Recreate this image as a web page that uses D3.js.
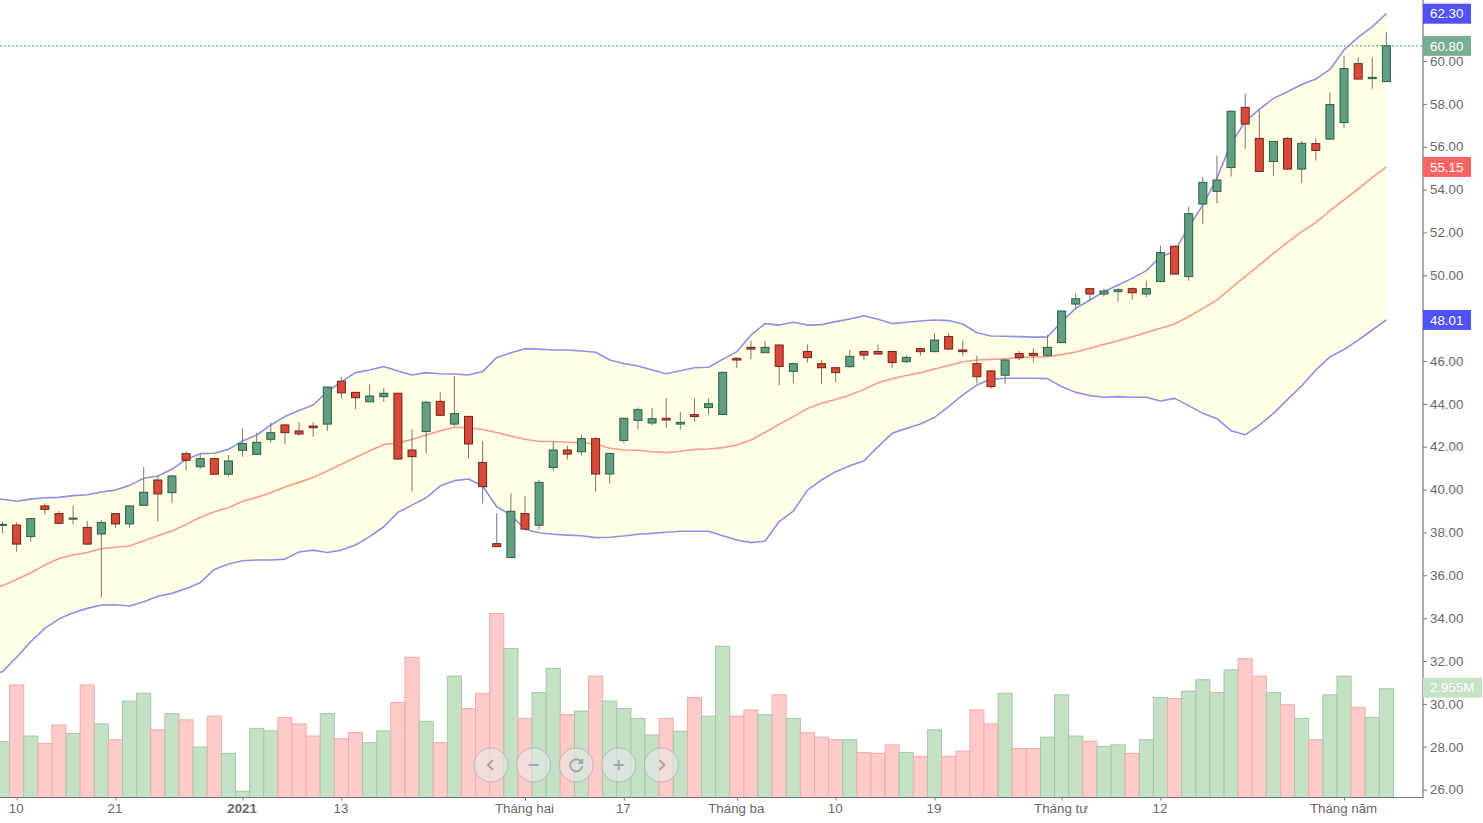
<!DOCTYPE html>
<html>
<head>
<meta charset="utf-8">
<title>Chart</title>
<script src="https://cdn.jsdelivr.net/npm/d3@7"></script>
<style>
  html, body { margin: 0; padding: 0; background: #fff; overflow: hidden; }
  svg { display: block; font-family: "Liberation Sans", Arial, sans-serif; }
  .axis text { font-size: 13.3px; fill: #686868; }
  .axis line { stroke: #777; }
</style>
</head>
<body>
<svg id="chart" width="1483" height="823"></svg>
<script>
/* one entry per session, oldest first */
const opens = [38.44, 38.44, 37.90, 39.33, 38.97, 38.72, 38.33, 38.02, 38.97, 38.49,
  39.36, 40.54, 39.95, 41.77, 41.16, 41.54, 40.81, 41.93, 41.74, 42.44,
  43.11, 42.83, 43.06, 43.15, 45.15, 44.63, 44.19, 44.43, 44.59, 41.94,
  42.80, 44.21, 43.15, 43.51, 41.36, 37.57, 36.92, 38.97, 38.43, 41.12,
  41.94, 41.86, 42.47, 40.82, 42.39, 43.32, 43.20, 43.42, 43.15, 43.59,
  43.92, 43.60, 46.22, 46.73, 46.48, 46.84, 45.61, 46.54, 45.97, 45.78,
  45.83, 46.54, 46.54, 46.54, 46.06, 46.67, 46.53, 47.24, 46.61, 45.97,
  45.63, 45.43, 46.44, 46.45, 46.36, 46.95, 48.75, 49.47, 49.22, 49.33,
  49.47, 49.22, 49.80, 51.45, 50.03, 53.42, 54.01, 55.12, 57.93, 56.48,
  55.40, 56.48, 55.05, 56.24, 56.45, 57.22, 59.97, 59.27, 59.13];
const highs = [38.60, 38.56, 38.74, 39.45, 39.09, 39.34, 38.63, 38.67, 38.97, 39.37,
  41.15, 40.73, 40.77, 41.89, 41.75, 41.55, 41.71, 42.95, 42.75, 43.22,
  43.15, 43.23, 43.23, 44.88, 45.36, 44.63, 45.00, 44.82, 44.59, 42.91,
  44.23, 44.63, 45.39, 43.53, 42.36, 38.99, 39.92, 39.79, 40.54, 42.33,
  42.14, 42.66, 42.53, 41.82, 43.46, 43.93, 43.90, 44.35, 43.71, 44.35,
  44.34, 45.61, 46.26, 47.03, 47.03, 46.87, 46.02, 46.87, 46.14, 45.80,
  46.62, 46.58, 46.87, 46.56, 46.37, 46.68, 47.38, 47.38, 47.04, 46.34,
  45.67, 46.17, 46.56, 46.69, 47.31, 48.43, 49.25, 49.49, 49.47, 49.49,
  49.53, 49.84, 51.48, 51.48, 53.30, 54.67, 55.68, 57.76, 58.57, 57.84,
  56.36, 56.53, 56.36, 56.48, 58.63, 60.34, 60.26, 60.26, 61.43];
const lows = [38.05, 37.19, 37.66, 38.94, 38.47, 38.47, 37.55, 35.05, 38.32, 38.32,
  39.36, 38.60, 39.47, 40.99, 41.05, 40.77, 40.70, 41.63, 41.71, 42.28,
  42.22, 42.59, 42.56, 42.84, 44.35, 43.84, 44.19, 44.18, 41.47, 40.00,
  41.79, 43.56, 43.06, 41.55, 39.45, 37.43, 36.92, 38.21, 38.24, 40.98,
  41.50, 41.68, 40.00, 40.39, 42.27, 42.90, 43.09, 42.97, 42.90, 43.26,
  43.59, 43.57, 45.77, 46.17, 46.48, 44.96, 45.05, 46.02, 45.02, 45.11,
  45.78, 46.16, 46.37, 45.78, 46.02, 46.34, 46.53, 46.64, 46.34, 45.05,
  44.79, 45.02, 46.14, 46.06, 46.36, 46.95, 48.55, 48.89, 49.10, 48.86,
  48.97, 49.07, 49.77, 50.11, 49.84, 52.49, 53.45, 54.70, 55.99, 54.92,
  54.74, 55.01, 54.40, 55.44, 56.41, 56.97, 59.23, 58.79, 59.13];
const closes = [38.47, 37.55, 38.74, 39.17, 38.52, 38.76, 37.55, 38.56, 38.49, 39.33,
  39.97, 39.89, 40.73, 41.46, 41.54, 40.81, 41.43, 42.24, 42.30, 42.75,
  42.75, 42.69, 42.98, 44.88, 44.61, 44.38, 44.46, 44.59, 41.52, 41.63,
  44.17, 43.56, 43.64, 42.22, 40.23, 37.43, 39.08, 38.25, 40.43, 41.94,
  41.75, 42.47, 40.82, 41.78, 43.42, 43.82, 43.40, 43.34, 43.23, 43.50,
  44.10, 45.56, 46.14, 46.65, 46.73, 45.84, 45.97, 46.25, 45.78, 45.55,
  46.31, 46.37, 46.42, 46.02, 46.26, 46.53, 47.07, 46.65, 46.53, 45.36,
  44.90, 46.14, 46.25, 46.36, 46.73, 48.43, 49.00, 49.22, 49.36, 49.42,
  49.28, 49.47, 51.15, 50.15, 52.97, 54.43, 54.54, 57.75, 57.15, 54.94,
  56.34, 55.05, 56.25, 55.92, 58.06, 59.74, 59.25, 59.33, 60.80];

/* traded volume in millions */
const volumes = [1.52, 3.06, 1.67, 1.47, 1.97, 1.74, 3.06, 2.00, 1.57, 2.62,
  2.83, 1.84, 2.28, 2.11, 1.37, 2.21, 1.20, 0.17, 1.88, 1.81,
  2.17, 2.00, 1.67, 2.28, 1.60, 1.77, 1.49, 1.81, 2.58, 3.81,
  2.07, 1.49, 3.30, 2.42, 2.83, 5.00, 4.05, 2.15, 2.85, 3.51,
  2.25, 2.35, 3.30, 2.62, 2.42, 2.15, 1.70, 2.15, 1.80, 2.72,
  2.21, 4.11, 2.21, 2.38, 2.25, 2.79, 2.15, 1.77, 1.64, 1.57,
  1.57, 1.22, 1.20, 1.43, 1.22, 1.12, 1.84, 1.12, 1.26, 2.38,
  2.00, 2.83, 1.33, 1.33, 1.64, 2.79, 1.67, 1.53, 1.39, 1.43,
  1.20, 1.57, 2.72, 2.69, 2.89, 3.20, 2.85, 3.47, 3.78, 3.30,
  2.85, 2.52, 2.15, 1.57, 2.79, 3.30, 2.45, 2.18, 2.955];

/* bollinger bands, these start one session before the first candle */
const upperBand = [39.66, 39.64, 39.55, 39.65, 39.71, 39.73, 39.81, 39.85, 39.98, 40.07, 40.29,
  40.62, 40.73, 41.04, 41.50, 41.77, 41.79, 41.97, 42.36, 42.64, 43.11,
  43.50, 43.78, 44.04, 44.66, 45.13, 45.55, 45.67, 45.84, 45.63, 45.44,
  45.55, 45.50, 45.49, 45.44, 45.60, 46.26, 46.48, 46.67, 46.65, 46.61,
  46.61, 46.56, 46.50, 46.14, 45.98, 45.86, 45.67, 45.50, 45.64, 45.78,
  45.80, 46.17, 46.53, 47.31, 47.84, 47.77, 47.90, 47.77, 47.79, 47.93,
  48.05, 48.21, 48.04, 47.84, 47.90, 47.96, 48.01, 47.98, 47.82, 47.41,
  47.26, 47.25, 47.23, 47.21, 47.21, 47.93, 48.55, 48.94, 49.33, 49.64,
  49.95, 50.31, 50.96, 51.20, 52.36, 53.37, 54.62, 56.25, 57.26, 57.84,
  58.35, 58.66, 59.00, 59.25, 59.70, 60.61, 61.20, 61.70, 62.30];
const middleBand = [35.50, 35.61, 35.90, 36.21, 36.57, 36.88, 37.04, 37.16, 37.33, 37.40, 37.46,
  37.71, 37.94, 38.16, 38.47, 38.80, 39.06, 39.25, 39.55, 39.73, 39.95,
  40.21, 40.43, 40.66, 40.96, 41.28, 41.59, 41.91, 42.19, 42.28, 42.43,
  42.64, 42.84, 43.00, 42.98, 42.90, 42.76, 42.59, 42.44, 42.34, 42.34,
  42.30, 42.28, 42.22, 42.02, 41.94, 41.93, 41.86, 41.82, 41.88, 41.97,
  41.99, 42.05, 42.17, 42.41, 42.76, 43.14, 43.50, 43.88, 44.12, 44.30,
  44.51, 44.77, 45.08, 45.27, 45.42, 45.55, 45.72, 45.88, 46.06, 46.14,
  46.17, 46.20, 46.25, 46.28, 46.30, 46.39, 46.51, 46.69, 46.87, 47.04,
  47.23, 47.42, 47.62, 47.82, 48.16, 48.55, 48.94, 49.49, 50.03, 50.57,
  51.12, 51.63, 52.13, 52.55, 53.11, 53.61, 54.12, 54.65, 55.15];
const lowerBand = [31.40, 31.60, 32.27, 33.00, 33.62, 34.06, 34.35, 34.55, 34.71, 34.72, 34.66,
  34.86, 35.12, 35.25, 35.48, 35.75, 36.37, 36.62, 36.77, 36.81, 36.81,
  36.85, 37.18, 37.27, 37.16, 37.27, 37.51, 37.90, 38.36, 39.03, 39.37,
  39.71, 40.27, 40.51, 40.59, 40.26, 39.29, 38.91, 38.24, 38.08, 38.01,
  37.97, 37.94, 37.85, 37.87, 37.93, 38.01, 38.05, 38.10, 38.15, 38.15,
  38.15, 37.94, 37.74, 37.62, 37.69, 38.60, 39.09, 40.07, 40.54, 40.93,
  41.21, 41.43, 42.10, 42.72, 42.95, 43.15, 43.46, 43.96, 44.51, 44.97,
  45.25, 45.29, 45.29, 45.29, 45.27, 44.90, 44.63, 44.48, 44.40, 44.43,
  44.40, 44.40, 44.23, 44.35, 44.01, 43.65, 43.40, 42.84, 42.65, 43.10,
  43.65, 44.30, 44.94, 45.67, 46.29, 46.63, 47.07, 47.54, 48.01];

const xTickSessions = [1, 8, 17, 24, 37, 44, 52, 59, 66, 75, 82, 95];
const xTickLabels = ["10", "21", "2021", "13", "Tháng hai", "17", "Tháng ba", "10", "19",
  "Tháng tư", "12", "Tháng năm"];
const yTickValues = d3.range(26, 63, 2);

const priceTagValues = [62.30, 60.80, 55.15, 48.01];
const priceTagColors = ["#4646fb", "#6ea98b", "#ff5858", "#4646fb"];
const volumeTag = 2.955;

const navIcons = ["left", "minus", "reload", "plus", "right"];


/** The main function draws everything once the page has loaded */
function main() {
  const svg = d3.select("#chart");
  const axisX = 1423;
  const axisY = 797.5;
  const green = {fill: "#609f81", stroke: "#2d5f47"};
  const red = {fill: "#d74a39", stroke: "#78211a"};

  const x = d3.scaleLinear().domain([0, 98]).range([2.5, 1386.4]);
  const y = d3.scaleLinear().domain([26, 60]).range([791.6, 63]);
  const yVol = d3.scaleLinear().domain([0, 5]).range([axisY, 613.5]);
  const step = x(1) - x(0);
  const isUp = (i) => closes[i] >= opens[i];

  // volume bars
  svg.append("g").selectAll("rect")
    .data(volumes)
    .join("rect")
    .attr("x", (d, i) => x(i) - step / 2)
    .attr("y", (d) => yVol(d))
    .attr("width", step)
    .attr("height", (d) => axisY - yVol(d))
    .attr("fill", (d, i) => isUp(i) ? "#c4e1c5" : "#ffcaca")
    .attr("stroke", (d, i) => isUp(i) ? "#a3c9a5" : "#f4abab")
    .attr("stroke-width", 1);

  // band fill, then the three lines
  const area = d3.area()
    .x((d) => x(d - 1))
    .y0((d) => y(lowerBand[d]))
    .y1((d) => y(upperBand[d]));
  svg.append("path")
    .datum(d3.range(upperBand.length))
    .attr("fill", "#ffffe6")
    .attr("d", area);

  const line = d3.line().x((d, i) => x(i - 1)).y((d) => y(d));
  [[upperBand, "#8f8fe6"], [lowerBand, "#8f8fe6"], [middleBand, "#fb9c84"]].forEach(([s, c]) => {
    svg.append("path")
      .datum(s)
      .attr("fill", "none")
      .attr("stroke", c)
      .attr("stroke-width", 1.6)
      .attr("stroke-linejoin", "round")
      .attr("d", line);
  });

  // last close line
  svg.append("line")
    .attr("x1", 0).attr("x2", axisX)
    .attr("y1", y(closes[closes.length - 1])).attr("y2", y(closes[closes.length - 1]))
    .attr("stroke", "#4f9473")
    .attr("stroke-dasharray", "2,2");

  // candles
  const candles = svg.append("g").selectAll("g")
    .data(closes)
    .join("g");
  candles.append("line")
    .attr("x1", (d, i) => x(i)).attr("x2", (d, i) => x(i))
    .attr("y1", (d, i) => y(highs[i]))
    .attr("y2", (d, i) => y(lows[i]))
    .attr("stroke", "#777")
    .attr("stroke-width", 1);
  candles.append("rect")
    .attr("x", (d, i) => x(i) - 4)
    .attr("y", (d, i) => y(Math.max(opens[i], closes[i])))
    .attr("width", 8)
    .attr("height", (d, i) => Math.max(1, Math.abs(y(opens[i]) - y(closes[i]))))
    .attr("fill", (d, i) => isUp(i) ? green.fill : red.fill)
    .attr("stroke", (d, i) => isUp(i) ? green.stroke : red.stroke)
    .attr("stroke-width", 1);

  // navigation buttons over the volume bars
  const nav = svg.append("g").selectAll("g")
    .data(navIcons)
    .join("g")
    .attr("transform", (d, i) => `translate(${491 + i * 42.6},765)`);
  nav.append("circle")
    .attr("r", 17)
    .attr("fill", "#e9e9e9").attr("fill-opacity", 0.6)
    .attr("stroke", "#aaa").attr("stroke-opacity", 0.7);
  const icons = {
    left: "M2,-5L-3,0L2,5",
    right: "M-2,-5L3,0L-2,5",
    minus: "M-5,0H5",
    plus: "M-5,0H5M0,-5V5",
    reload: "M5,-3A6,6 0 1 0 6,1M6,-6V-2H2",
  };
  nav.append("path")
    .attr("d", (d) => icons[d])
    .attr("fill", "none")
    .attr("stroke", "#a5a5a5")
    .attr("stroke-width", 2);

  // axes, the tick row sits 2px above the mark positions as in the reference
  const xAxis = d3.axisBottom(x)
    .tickValues(xTickSessions)
    .tickFormat((d, i) => xTickLabels[i])
    .tickSize(3)
    .tickSizeOuter(0);
  const gx = svg.append("g")
    .attr("class", "axis")
    .attr("transform", `translate(0,${axisY})`)
    .call(xAxis);
  gx.select(".domain").remove();
  gx.selectAll("text")
    .attr("dy", "0.71em")
    .attr("x", -1)
    .attr("y", 6.5)
    .style("font-weight", (d, i) => xTickLabels[i] === "2021" ? "bold" : "normal");

  const yAxis = d3.axisRight(y)
    .tickValues(yTickValues)
    .tickFormat(d3.format(".2f"))
    .tickSize(4)
    .tickPadding(3);
  const gy = svg.append("g")
    .attr("class", "axis")
    .attr("transform", `translate(${axisX},-2)`)
    .call(yAxis);
  gy.select(".domain").remove();

  svg.append("line")
    .attr("x1", 0).attr("x2", axisX + 0.5).attr("y1", axisY).attr("y2", axisY)
    .attr("stroke", "#777").attr("stroke-width", 1.2);
  svg.append("line")
    .attr("x1", axisX).attr("x2", axisX).attr("y1", 0).attr("y2", axisY)
    .attr("stroke", "#777").attr("stroke-width", 1.2);

  // value tags on the price axis
  const tags = svg.append("g").selectAll("g")
    .data(priceTagValues)
    .join("g")
    .attr("transform", (d) => `translate(${axisX},${y(d)})`);
  tags.append("rect")
    .attr("x", 0).attr("y", -10)
    .attr("width", 48).attr("height", 20)
    .attr("fill", (d, i) => priceTagColors[i])
    .attr("fill-opacity", 0.93);
  tags.append("text")
    .attr("x", 7).attr("dy", "0.35em")
    .attr("fill", "#fff")
    .style("font-size", "13.3px")
    .text((d) => d3.format(".2f")(d));

  const volTag = svg.append("g")
    .attr("transform", `translate(${axisX},${yVol(volumeTag) - 1})`);
  volTag.append("rect")
    .attr("x", 0).attr("y", -10)
    .attr("width", 59).attr("height", 20)
    .attr("fill", "#c5e3c6");
  volTag.append("text")
    .attr("x", 7).attr("dy", "0.35em")
    .attr("fill", "#fff")
    .style("font-size", "13.3px")
    .text(d3.format(".3f")(volumeTag) + "M");
}

window.onload = main;
</script>
</body>
</html>
